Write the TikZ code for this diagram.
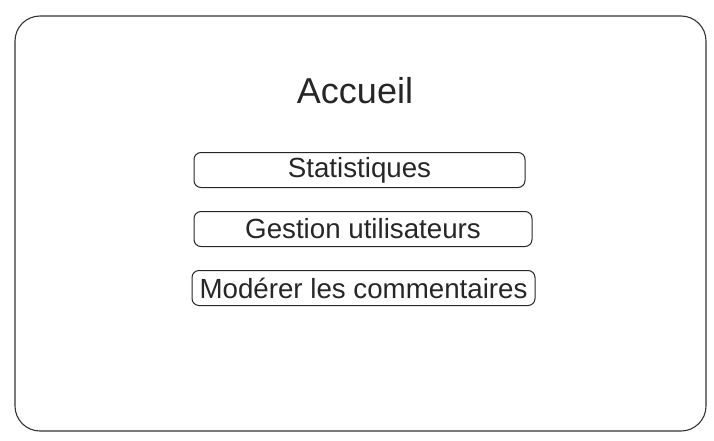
\documentclass[tikz,border=0pt]{standalone}
\usepackage{fontspec}
\setmainfont{Liberation Sans}
\usetikzlibrary{positioning}
\tikzset{>=latex}
\tikzset{
  frame/.style={draw=black!80,line width=1.1pt,rounded corners=25pt},
  menubtn/.style={draw=black!85,line width=1pt,rounded corners=7pt,inner sep=0pt,font=\fontsize{27.7}{31}\selectfont,text=black!85},
}

\begin{document}
\begin{tikzpicture}[x=1pt,y=-1pt]

\useasboundingbox (0,0) rectangle (714,441);

%%% Page frame
\draw[frame] (15,16) rectangle (706,431);

%%% Title
\node[anchor=base,font=\fontsize{36}{40}\selectfont,text=black!85] (title) at (355,103) {Accueil};

%%% Menu buttons
\node[menubtn,minimum width=331pt,minimum height=35pt] (stats) at (359.5,170) {Statistiques};
\node[menubtn,minimum width=338pt,minimum height=35pt] (users) at (363,229) {Gestion utilisateurs};
\node[menubtn,minimum width=343pt,minimum height=35pt] (comments) at (363.5,288) {Modérer les commentaires};

\end{tikzpicture}
\end{document}
